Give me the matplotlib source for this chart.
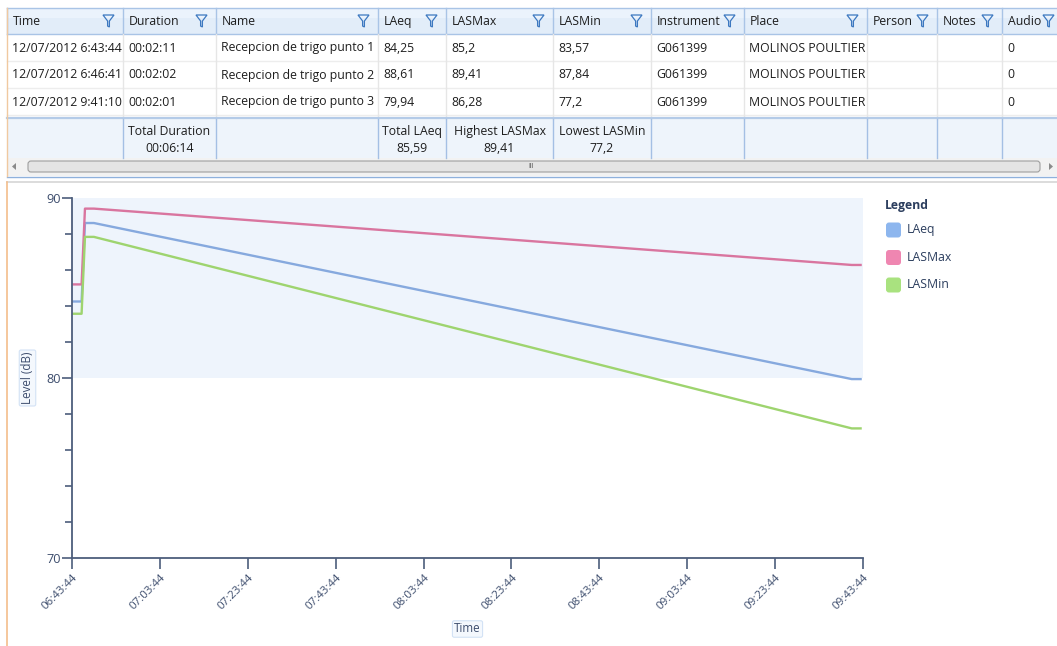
import datetime as dt

import matplotlib
matplotlib.use("Agg")
import matplotlib.pyplot as plt
import matplotlib.dates as mdates
from matplotlib.patches import Rectangle, FancyBboxPatch, Polygon

# ---- data ----
start_times = ["12/07/2012 6:43:44", "12/07/2012 6:46:41", "12/07/2012 9:41:10"]
durations = ["00:02:11", "00:02:02", "00:02:01"]
names = ["Recepcion de trigo punto 1", "Recepcion de trigo punto 2", "Recepcion de trigo punto 3"]
laeq = [84.25, 88.61, 79.94]
lasmax = [85.2, 89.41, 86.28]
lasmin = [83.57, 87.84, 77.2]
instrument = ["G061399", "G061399", "G061399"]
place = ["MOLINOS POULTIER", "MOLINOS POULTIER", "MOLINOS POULTIER"]
audio = ["0", "0", "0"]

columns = ["Time", "Duration", "Name", "LAeq", "LASMax", "LASMin",
           "Instrument", "Place", "Person", "Notes", "Audio"]
footer = {1: ("Total Duration", "00:06:14"), 3: ("Total LAeq", "85,59"),
          4: ("Highest LASMax", "89,41"), 5: ("Lowest LASMin", "77,2")}

series_names = ["LAeq", "LASMax", "LASMin"]
series_vals = [laeq, lasmax, lasmin]
line_colors = ["#86A9DE", "#D9759F", "#9ED46F"]
swatch_colors = ["#8DB6EE", "#EF86B1", "#A9E27F"]

x_start = "06:43:44"
x_end = "09:43:44"
tick_step_min = 20

FONT = ["Open Sans", "DejaVu Sans"]
plt.rcParams["font.family"] = FONT
FS = 8.8

W, H = 1057, 646
fig = plt.figure(figsize=(W / 100, H / 100), dpi=100)
fig.patch.set_facecolor("white")

# overlay in pixel coordinates for the grid part
ov = fig.add_axes([0, 0, 1, 1], zorder=0)
ov.set_xlim(0, W)
ov.set_ylim(H, 0)
ov.axis("off")

col_x = [7, 123, 216, 378, 446, 553, 651, 744, 867, 937, 1002, 1063]
hdr_top, hdr_bot = 8, 34
row_h = 27
foot_top, foot_bot = 119, 158

# header
ov.add_patch(Rectangle((7, hdr_top), W - 7, hdr_bot - hdr_top, facecolor="#E2EDF9",
                       edgecolor="none"))
ov.add_patch(Rectangle((7, hdr_top), W - 7, 10, facecolor="#EBF3FC", edgecolor="none"))
ov.plot([7, W], [hdr_top, hdr_top], color="#A9C4E6", lw=1)
ov.plot([7, W], [hdr_bot, hdr_bot], color="#A9C4E6", lw=1)
for i, c in enumerate(columns):
    x0, x1 = col_x[i], col_x[i + 1]
    ov.plot([x0, x0], [hdr_top, hdr_bot], color="#A9C4E6", lw=1)
    ov.text(x0 + 6, 21.5, c, fontsize=FS, color="#1E1E1E", va="center", ha="left")
    fx = x1 - 15
    funnel = [(fx - 5, 15), (fx + 6, 15), (fx + 1.4, 21), (fx + 1.4, 27),
              (fx - 0.4, 26), (fx - 0.4, 21)]
    ov.add_patch(Polygon(funnel, closed=True, facecolor="none", edgecolor="#3C78C0",
                         lw=0.9, clip_on=False))

# data rows
rows = list(zip(start_times, durations, names,
                [f"{v:g}".replace(".", ",") for v in laeq],
                [f"{v:g}".replace(".", ",") for v in lasmax],
                [f"{v:g}".replace(".", ",") for v in lasmin],
                instrument, place, ["", "", ""], ["", "", ""], audio))
for r, row in enumerate(rows):
    y0 = hdr_bot + r * row_h
    ov.plot([7, W], [y0 + row_h, y0 + row_h], color="#EDEDED", lw=1)
    for i, val in enumerate(row):
        ov.text(col_x[i] + 5, y0 + row_h / 2 + 0.5, val, fontsize=FS, color="#1E1E1E",
                va="center", ha="left")
for x in col_x[1:-1]:
    ov.plot([x, x], [hdr_bot, hdr_bot + 3 * row_h + 4], color="#E6E6E6", lw=1)

# footer
ov.add_patch(Rectangle((7, foot_top), W - 7, foot_bot - foot_top, facecolor="#EEF4FB",
                       edgecolor="none"))
ov.plot([7, W], [foot_top - 1, foot_top - 1], color="#B4CBE8", lw=1.6)
for x in col_x[1:-1]:
    ov.plot([x, x], [foot_top, foot_bot], color="#A4BFE4", lw=1)
for i, (a, b) in footer.items():
    cx = (col_x[i] + col_x[i + 1]) / 2
    ov.text(cx, 131.5, a, fontsize=FS, color="#1E1E1E", ha="center", va="center")
    ov.text(cx, 148.5, b, fontsize=FS, color="#1E1E1E", ha="center", va="center")

# scrollbar
ov.add_patch(Rectangle((7, foot_bot), W - 7, 18, facecolor="#F2F2F2", edgecolor="none"))
ov.add_patch(FancyBboxPatch((28, 161), 1012, 11, boxstyle="round,pad=0,rounding_size=3",
                            facecolor="#E4E4E4", edgecolor="#9E9E9E", lw=0.8))
ov.text(531, 166.5, "III", fontsize=5, color="#555555", ha="center", va="center")
ov.add_patch(Polygon([(16, 163), (16, 170), (12, 166.5)], facecolor="#8A8A8A",
                     edgecolor="none"))
ov.add_patch(Polygon([(1049, 163), (1049, 170), (1053, 166.5)], facecolor="#8A8A8A",
                     edgecolor="none"))
ov.plot([7, W], [176.5, 176.5], color="#8FB1DC", lw=1)
ov.plot([7, W], [182, 182], color="#D5D5D5", lw=1.2)
ov.plot([7, 7], [8, 176], color="#F0C9A0", lw=1)
ov.plot([7, 7], [182, H], color="#F3BE8B", lw=1.2)

# legend
ov.text(885, 205, "Legend", fontsize=FS, fontweight="bold", color="#2C3E5E",
        va="center", ha="left")
for k, (nm, sc) in enumerate(zip(series_names, swatch_colors)):
    yc = 230 + k * 27.5
    ov.add_patch(FancyBboxPatch((886, yc - 7.5), 15, 15,
                                boxstyle="round,pad=0,rounding_size=3",
                                facecolor=sc, edgecolor="none"))
    ov.text(907, yc, nm, fontsize=FS, color="#2C3E5E", va="center", ha="left")

# ---- chart ----
day = dt.date(2012, 7, 12)


def parse_ts(s):
    return dt.datetime.strptime(s, "%d/%m/%Y %H:%M:%S")


def parse_dur(s):
    h, m, sec = (int(p) for p in s.split(":"))
    return dt.timedelta(hours=h, minutes=m, seconds=sec)


xs = []
for t, d in zip(start_times, durations):
    t0 = parse_ts(t)
    xs += [t0, t0 + parse_dur(d)]

t_lo = dt.datetime.combine(day, dt.datetime.strptime(x_start, "%H:%M:%S").time())
t_hi = dt.datetime.combine(day, dt.datetime.strptime(x_end, "%H:%M:%S").time())

ax = fig.add_axes([72 / W, 1 - 558 / H, (863 - 72) / W, (558 - 198) / H], zorder=1)
ax.set_facecolor("none")
ax.axhspan(80, 90, color="#EEF4FC", zorder=0, lw=0)
for nm, vals, col in zip(series_names, series_vals, line_colors):
    ys = [v for v in vals for _ in (0, 1)]
    ax.plot(xs, ys, color=col, lw=1.7, solid_joinstyle="round", label=nm, zorder=2)

ax.set_xlim(t_lo, t_hi)
ax.set_ylim(70, 90)
ticks = []
t = t_lo
while t <= t_hi:
    ticks.append(t)
    t += dt.timedelta(minutes=tick_step_min)
ax.set_xticks(ticks)
ax.xaxis.set_major_formatter(mdates.DateFormatter("%H:%M:%S"))
ax.set_yticks([70, 80, 90])
ax.set_yticks(range(70, 91, 2), minor=True)

axis_col = "#4D5E7C"
txt_col = "#3D4D6D"
for s in ["top", "right"]:
    ax.spines[s].set_visible(False)
for s in ["left", "bottom"]:
    ax.spines[s].set_color(axis_col)
    ax.spines[s].set_linewidth(1.3)
ax.tick_params(axis="x", length=8, width=1.2, color=axis_col, labelcolor=txt_col,
               labelsize=8.2, pad=2)
ax.tick_params(axis="y", which="major", length=7, width=1.2, color=axis_col,
               labelcolor=txt_col, labelsize=9.2, pad=1)
ax.tick_params(axis="y", which="minor", length=5, width=1.2, color=axis_col)
for lab in ax.get_xticklabels():
    lab.set_rotation(45)
    lab.set_ha("right")
    lab.set_rotation_mode("anchor")

ax.set_ylabel("Level (dB)", fontsize=8.4, color=txt_col,
              bbox=dict(boxstyle="round,pad=0.15", fc="#F4F8FD", ec="#D3E2F5", lw=0.8))
ax.yaxis.set_label_coords(-38 / (863 - 72), 0.5)
ax.set_xlabel("Time", fontsize=8.4, color=txt_col,
              bbox=dict(boxstyle="round,pad=0.15", fc="#F4F8FD", ec="#D3E2F5", lw=0.8))
ax.xaxis.set_label_coords(0.5, -(629 - 558) / (558 - 198))
ax.xaxis.label.set_va("center")

fig.savefig("out.png", dpi=100)
